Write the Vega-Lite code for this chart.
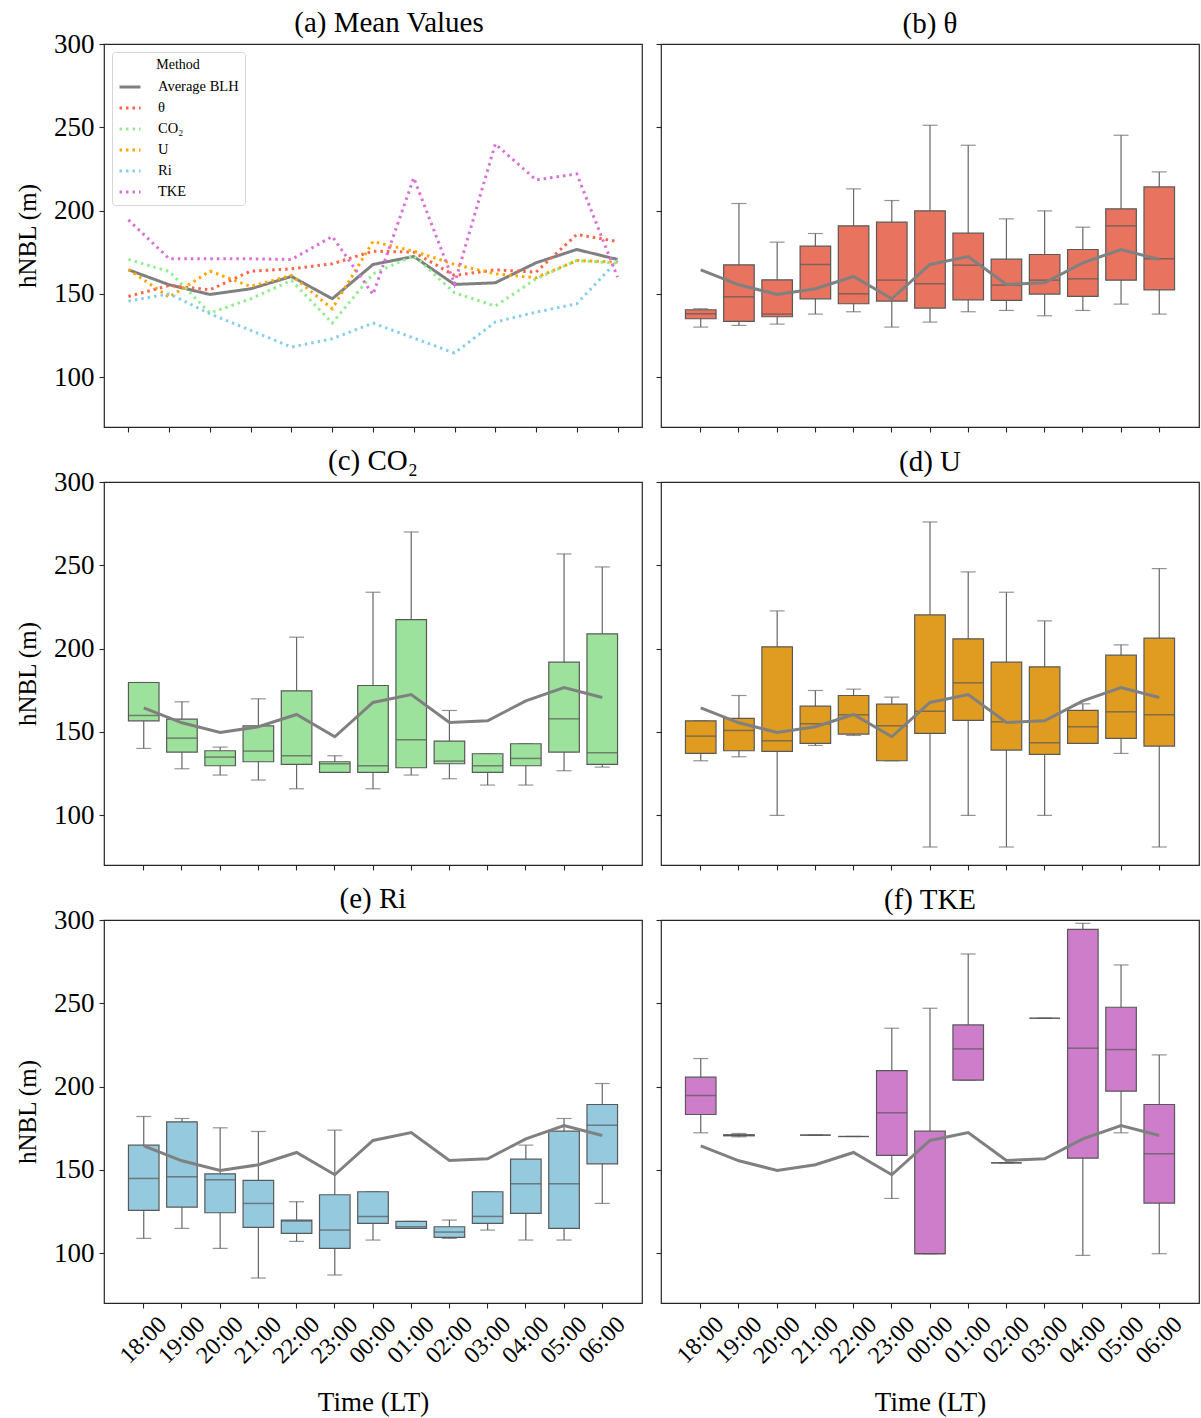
{
  "$schema": "https://vega.github.io/schema/vega-lite/v6.json",
  "background": "white",
  "padding": {"left": 14, "top": 8, "right": 0, "bottom": 0},
  "config": {
    "font": "Liberation Serif",
    "view": {"stroke": "#262626", "strokeWidth": 1.2},
    "axis": {"domain": false, "grid": false, "tickColor": "#262626", "tickSize": 5, "tickWidth": 1.1, "labelColor": "#000", "titleColor": "#000", "labelFont": "Liberation Serif", "titleFont": "Liberation Serif", "titleFontWeight": "normal"},
    "title": {"font": "Liberation Serif", "fontSize": 29, "fontWeight": "normal", "color": "#000", "offset": 4},
    "legend": {"labelFont": "Liberation Serif", "titleFont": "Liberation Serif"}
  },
  "datasets": {
    "means": [
      {"time":"18:00","method":"Average BLH","value":164.4},{"time":"19:00","method":"Average BLH","value":155.4},{"time":"20:00","method":"Average BLH","value":149.6},{"time":"21:00","method":"Average BLH","value":153},{"time":"22:00","method":"Average BLH","value":160.4},{"time":"23:00","method":"Average BLH","value":147},{"time":"00:00","method":"Average BLH","value":167.6},{"time":"01:00","method":"Average BLH","value":172.4},{"time":"02:00","method":"Average BLH","value":155.6},{"time":"03:00","method":"Average BLH","value":156.6},{"time":"04:00","method":"Average BLH","value":168.6},{"time":"05:00","method":"Average BLH","value":176.6},{"time":"06:00","method":"Average BLH","value":170.6},
      {"time":"18:00","method":"θ","value":148.4},{"time":"19:00","method":"θ","value":155},{"time":"20:00","method":"θ","value":152.4},{"time":"21:00","method":"θ","value":163.6},{"time":"22:00","method":"θ","value":165},{"time":"23:00","method":"θ","value":168},{"time":"00:00","method":"θ","value":175.6},{"time":"01:00","method":"θ","value":175},{"time":"02:00","method":"θ","value":161},{"time":"03:00","method":"θ","value":164.4},{"time":"04:00","method":"θ","value":163},{"time":"05:00","method":"θ","value":185.6},{"time":"06:00","method":"θ","value":181.4},
      {"time":"18:00","method":"CO₂","value":170.6},{"time":"19:00","method":"CO₂","value":163.4},{"time":"20:00","method":"CO₂","value":138.4},{"time":"21:00","method":"CO₂","value":147},{"time":"22:00","method":"CO₂","value":158},{"time":"23:00","method":"CO₂","value":132.4},{"time":"00:00","method":"CO₂","value":162},{"time":"01:00","method":"CO₂","value":173},{"time":"02:00","method":"CO₂","value":150.6},{"time":"03:00","method":"CO₂","value":142.6},{"time":"04:00","method":"CO₂","value":159},{"time":"05:00","method":"CO₂","value":170},{"time":"06:00","method":"CO₂","value":168.4},
      {"time":"18:00","method":"U","value":164.6},{"time":"19:00","method":"U","value":148},{"time":"20:00","method":"U","value":163.6},{"time":"21:00","method":"U","value":154.4},{"time":"22:00","method":"U","value":161},{"time":"23:00","method":"U","value":141},{"time":"00:00","method":"U","value":181.4},{"time":"01:00","method":"U","value":175.6},{"time":"02:00","method":"U","value":167.6},{"time":"03:00","method":"U","value":162},{"time":"04:00","method":"U","value":159.6},{"time":"05:00","method":"U","value":170},{"time":"06:00","method":"U","value":169},
      {"time":"18:00","method":"Ri","value":145.6},{"time":"19:00","method":"Ri","value":150},{"time":"20:00","method":"Ri","value":138},{"time":"21:00","method":"Ri","value":128},{"time":"22:00","method":"Ri","value":118},{"time":"23:00","method":"Ri","value":123},{"time":"00:00","method":"Ri","value":132.4},{"time":"01:00","method":"Ri","value":123.4},{"time":"02:00","method":"Ri","value":114.4},{"time":"03:00","method":"Ri","value":133},{"time":"04:00","method":"Ri","value":139},{"time":"05:00","method":"Ri","value":144},{"time":"06:00","method":"Ri","value":170},
      {"time":"18:00","method":"TKE","value":194.4},{"time":"19:00","method":"TKE","value":171},{"time":"20:00","method":"TKE","value":171},{"time":"21:00","method":"TKE","value":171},{"time":"22:00","method":"TKE","value":170.6},{"time":"23:00","method":"TKE","value":184.4},{"time":"00:00","method":"TKE","value":149.6},{"time":"01:00","method":"TKE","value":219.6},{"time":"02:00","method":"TKE","value":156},{"time":"03:00","method":"TKE","value":240},{"time":"04:00","method":"TKE","value":218.4},{"time":"05:00","method":"TKE","value":222},{"time":"06:00","method":"TKE","value":160}
    ],
    "boxes": [
      {"method":"θ","time":"18:00","lo":130,"q1":135,"med":138,"q3":140.4,"hi":141},
      {"method":"θ","time":"19:00","lo":131,"q1":133.4,"med":148.2,"q3":167.4,"hi":204.2},
      {"method":"θ","time":"20:00","lo":131.8,"q1":136.2,"med":137.8,"q3":158.4,"hi":181},
      {"method":"θ","time":"21:00","lo":137.8,"q1":147,"med":167.6,"q3":178.6,"hi":186.2},
      {"method":"θ","time":"22:00","lo":139.2,"q1":144,"med":150,"q3":190.8,"hi":213},
      {"method":"θ","time":"23:00","lo":130,"q1":145.6,"med":158.2,"q3":193,"hi":206},
      {"method":"θ","time":"00:00","lo":133,"q1":141.4,"med":156,"q3":199.8,"hi":251.2},
      {"method":"θ","time":"01:00","lo":139.2,"q1":146.4,"med":167.2,"q3":186.4,"hi":239.2},
      {"method":"θ","time":"02:00","lo":140,"q1":146,"med":155.2,"q3":170.8,"hi":195},
      {"method":"θ","time":"03:00","lo":136.8,"q1":149.8,"med":158.2,"q3":173.6,"hi":199.8},
      {"method":"θ","time":"04:00","lo":140,"q1":148.4,"med":159,"q3":176.6,"hi":190},
      {"method":"θ","time":"05:00","lo":143.8,"q1":158.2,"med":190.8,"q3":201,"hi":245.2},
      {"method":"θ","time":"06:00","lo":137.8,"q1":152.4,"med":171,"q3":214.2,"hi":223.2},
      {"method":"CO₂","time":"18:00","lo":140,"q1":156.6,"med":159.8,"q3":179.6,"hi":179.6},
      {"method":"CO₂","time":"19:00","lo":127.8,"q1":137.8,"med":146.2,"q3":157.6,"hi":168},
      {"method":"CO₂","time":"20:00","lo":124,"q1":129.6,"med":134.8,"q3":138.6,"hi":140.8},
      {"method":"CO₂","time":"21:00","lo":121,"q1":132,"med":138.4,"q3":153.6,"hi":169.8},
      {"method":"CO₂","time":"22:00","lo":115.8,"q1":130.4,"med":135.6,"q3":174.6,"hi":206.8},
      {"method":"CO₂","time":"23:00","lo":125.6,"q1":125.6,"med":130.8,"q3":132,"hi":135.6},
      {"method":"CO₂","time":"00:00","lo":115.8,"q1":125.6,"med":129.6,"q3":177.8,"hi":233.8},
      {"method":"CO₂","time":"01:00","lo":124,"q1":128.4,"med":145.2,"q3":217.4,"hi":270},
      {"method":"CO₂","time":"02:00","lo":121.8,"q1":130.8,"med":132.4,"q3":144.4,"hi":162.8},
      {"method":"CO₂","time":"03:00","lo":118,"q1":125.6,"med":129.6,"q3":136.8,"hi":136.8},
      {"method":"CO₂","time":"04:00","lo":118,"q1":129.6,"med":134,"q3":142.8,"hi":142.8},
      {"method":"CO₂","time":"05:00","lo":126.6,"q1":137.8,"med":157.8,"q3":191.8,"hi":256.8},
      {"method":"CO₂","time":"06:00","lo":128.8,"q1":130.4,"med":137.4,"q3":208.8,"hi":249},
      {"method":"U","time":"18:00","lo":132.6,"q1":137,"med":147.4,"q3":156.6,"hi":156.6},
      {"method":"U","time":"19:00","lo":135,"q1":138.6,"med":150.8,"q3":158,"hi":171.8},
      {"method":"U","time":"20:00","lo":99.8,"q1":138.2,"med":144.6,"q3":201,"hi":222.6},
      {"method":"U","time":"21:00","lo":141.8,"q1":143,"med":154.8,"q3":165.4,"hi":174.8},
      {"method":"U","time":"22:00","lo":147.8,"q1":148.6,"med":160.2,"q3":171.8,"hi":175.6},
      {"method":"U","time":"23:00","lo":132.6,"q1":132.6,"med":153.6,"q3":166.6,"hi":170.8},
      {"method":"U","time":"00:00","lo":80.8,"q1":149,"med":162.4,"q3":220.2,"hi":276},
      {"method":"U","time":"01:00","lo":99.8,"q1":156.8,"med":179.4,"q3":205.8,"hi":246},
      {"method":"U","time":"02:00","lo":80.8,"q1":139,"med":156,"q3":191.8,"hi":233.8},
      {"method":"U","time":"03:00","lo":99.8,"q1":136.4,"med":143.4,"q3":189,"hi":216.6},
      {"method":"U","time":"04:00","lo":143,"q1":143,"med":153,"q3":162.8,"hi":166.8},
      {"method":"U","time":"05:00","lo":137,"q1":146,"med":162,"q3":196,"hi":202.2},
      {"method":"U","time":"06:00","lo":80.8,"q1":141.4,"med":160.2,"q3":206.2,"hi":248},
      {"method":"Ri","time":"18:00","lo":108.8,"q1":125.6,"med":144.8,"q3":164.8,"hi":182},
      {"method":"Ri","time":"19:00","lo":114.8,"q1":127.6,"med":145.8,"q3":178.8,"hi":180.8},
      {"method":"Ri","time":"20:00","lo":102.8,"q1":124.2,"med":144,"q3":147.6,"hi":175.2},
      {"method":"Ri","time":"21:00","lo":85,"q1":115.4,"med":129.8,"q3":143.6,"hi":173},
      {"method":"Ri","time":"22:00","lo":107,"q1":111.8,"med":119.2,"q3":119.8,"hi":130.8},
      {"method":"Ri","time":"23:00","lo":86.8,"q1":102.8,"med":113.8,"q3":135,"hi":173.8},
      {"method":"Ri","time":"00:00","lo":107.8,"q1":117.8,"med":122,"q3":136.8,"hi":136.8},
      {"method":"Ri","time":"01:00","lo":114.8,"q1":114.8,"med":115.8,"q3":119,"hi":119},
      {"method":"Ri","time":"02:00","lo":108.8,"q1":109.4,"med":112.6,"q3":115.8,"hi":119.8},
      {"method":"Ri","time":"03:00","lo":113.8,"q1":117.8,"med":122,"q3":136.8,"hi":136.8},
      {"method":"Ri","time":"04:00","lo":107.8,"q1":123.8,"med":141.6,"q3":156.4,"hi":164.8},
      {"method":"Ri","time":"05:00","lo":107.8,"q1":114.8,"med":141.6,"q3":173.2,"hi":180.8},
      {"method":"Ri","time":"06:00","lo":129.8,"q1":153.6,"med":176.8,"q3":189.2,"hi":201.8},
      {"method":"TKE","time":"18:00","lo":172.2,"q1":183.2,"med":194.6,"q3":205.6,"hi":216.8},
      {"method":"TKE","time":"19:00","lo":169.8,"q1":170.4,"med":170.8,"q3":171,"hi":171.8},
      {"method":"TKE","time":"21:00","lo":170.8,"q1":170.8,"med":170.8,"q3":170.8,"hi":170.8},
      {"method":"TKE","time":"22:00","lo":170,"q1":170,"med":170,"q3":170,"hi":170},
      {"method":"TKE","time":"23:00","lo":132.8,"q1":158.6,"med":184.2,"q3":209.6,"hi":235},
      {"method":"TKE","time":"00:00","lo":99.6,"q1":99.6,"med":99.6,"q3":173.2,"hi":247},
      {"method":"TKE","time":"01:00","lo":203.8,"q1":203.8,"med":222.6,"q3":237,"hi":279.6},
      {"method":"TKE","time":"02:00","lo":154.2,"q1":154.2,"med":154.2,"q3":154.2,"hi":154.2},
      {"method":"TKE","time":"03:00","lo":241,"q1":241,"med":241,"q3":241,"hi":241},
      {"method":"TKE","time":"04:00","lo":98.6,"q1":157,"med":223,"q3":294.4,"hi":298},
      {"method":"TKE","time":"05:00","lo":172.2,"q1":197.2,"med":222.2,"q3":247.6,"hi":273},
      {"method":"TKE","time":"06:00","lo":99.6,"q1":130,"med":159.6,"q3":189.2,"hi":219}
    ]
  },
  "columns": 2,
  "bounds": "flush",
  "spacing": {"row": 55, "column": 19},
  "concat": [
    {
      "title": {"text": "(a) Mean Values", "offset": -8, "dx": 16},
      "width": 538, "height": 383,
      "data": {"name": "means"},
      "mark": {"type": "line", "strokeWidth": 3},
      "encoding": {
        "x": {"field": "time", "type": "ordinal", "scale": {"type": "point", "domain": ["18:00","19:00","20:00","21:00","22:00","23:00","00:00","01:00","02:00","03:00","04:00","05:00","06:00"], "padding": 0.6}, "axis": {"labels": false, "title": null}},
        "y": {"field": "value", "type": "quantitative", "scale": {"domain": [70, 300], "nice": false, "zero": false}, "axis": {"values": [100,150,200,250,300], "title": "hNBL (m)", "labelFontSize": 27, "titleFontSize": 25, "labelPadding": 5, "titlePadding": 13}},
        "color": {"field": "method", "type": "nominal", "scale": {"domain": ["Average BLH","θ","CO₂","U","Ri","TKE"], "range": ["#808080","#ff6347","#90ee90","#ffa500","#87ceeb","#da70d6"]}, "legend": {"title": "Method", "orient": "top-left", "offset": 8, "titleAnchor": "middle", "symbolType": "stroke", "symbolSize": 441, "symbolStrokeWidth": 3, "labelFontSize": 14.5, "titleFontSize": 14, "titleFontWeight": "normal", "labelColor": "#000", "titleColor": "#000", "fillColor": "white", "strokeColor": "#d6d6d6", "padding": 6, "cornerRadius": 3, "rowPadding": 2, "labelOffset": 16, "titlePadding": 3}},
        "strokeDash": {"field": "method", "type": "nominal", "scale": {"domain": ["Average BLH","θ","CO₂","U","Ri","TKE"], "range": [[1,0],[2.5,4],[2.5,4],[2.5,4],[2.5,4],[2.5,4]]}, "legend": {"title": "Method", "orient": "top-left", "offset": 8, "titleAnchor": "middle", "symbolType": "stroke", "symbolSize": 441, "symbolStrokeWidth": 3, "labelFontSize": 14.5, "titleFontSize": 14, "titleFontWeight": "normal", "labelColor": "#000", "titleColor": "#000", "fillColor": "white", "strokeColor": "#d6d6d6", "padding": 6, "cornerRadius": 3, "rowPadding": 2, "labelOffset": 16, "titlePadding": 3}},
        "order": {"value": null}
      }
    },
    {
      "title": "(b) θ",
      "width": 538, "height": 383,
      "encoding": {"x": {"field": "time", "type": "ordinal", "scale": {"type": "band", "domain": ["18:00","19:00","20:00","21:00","22:00","23:00","00:00","01:00","02:00","03:00","04:00","05:00","06:00"], "paddingInner": 0.2, "paddingOuter": 0.64}, "axis": {"labels": false, "title": null}}},
      "layer": [
        {"data": {"name": "boxes"}, "transform": [{"filter": {"field": "method", "equal": "θ"}}], "mark": {"type": "rule", "color": "#666", "strokeWidth": 1.2}, "encoding": {"y": {"field": "lo", "type": "quantitative", "scale": {"domain": [70, 300], "nice": false, "zero": false}, "axis": {"values": [100,150,200,250,300], "labels": false}, "title": null}, "y2": {"field": "hi"}}},
        {"data": {"name": "boxes"}, "transform": [{"filter": {"field": "method", "equal": "θ"}}], "mark": {"type": "tick", "color": "#666", "size": 15, "thickness": 1.2}, "encoding": {"y": {"field": "lo", "type": "quantitative", "title": null}}},
        {"data": {"name": "boxes"}, "transform": [{"filter": {"field": "method", "equal": "θ"}}], "mark": {"type": "tick", "color": "#666", "size": 15, "thickness": 1.2}, "encoding": {"y": {"field": "hi", "type": "quantitative", "title": null}}},
        {"data": {"name": "boxes"}, "transform": [{"filter": {"field": "method", "equal": "θ"}}], "mark": {"type": "bar", "fill": "#e8735e", "stroke": "#595959", "strokeWidth": 1.2}, "encoding": {"y": {"field": "q1", "type": "quantitative", "title": null}, "y2": {"field": "q3"}}},
        {"data": {"name": "boxes"}, "transform": [{"filter": {"field": "method", "equal": "θ"}}], "mark": {"type": "tick", "color": "#595959", "size": 30.6, "thickness": 1.5}, "encoding": {"y": {"field": "med", "type": "quantitative", "title": null}}},
        {"data": {"name": "means"}, "transform": [{"filter": {"field": "method", "equal": "Average BLH"}}], "mark": {"type": "line", "color": "#808080", "strokeWidth": 3}, "encoding": {"y": {"field": "value", "type": "quantitative", "title": null}, "order": {"value": null}}}
      ]
    },
    {
      "title": {"text": "(c) CO₂", "offset": -8},
      "width": 538, "height": 383,
      "encoding": {"x": {"field": "time", "type": "ordinal", "scale": {"type": "band", "domain": ["18:00","19:00","20:00","21:00","22:00","23:00","00:00","01:00","02:00","03:00","04:00","05:00","06:00"], "paddingInner": 0.2, "paddingOuter": 0.64}, "axis": {"labels": false, "title": null}}},
      "layer": [
        {"data": {"name": "boxes"}, "transform": [{"filter": {"field": "method", "equal": "CO₂"}}], "mark": {"type": "rule", "color": "#666", "strokeWidth": 1.2}, "encoding": {"y": {"field": "lo", "type": "quantitative", "scale": {"domain": [70, 300], "nice": false, "zero": false}, "axis": {"values": [100,150,200,250,300], "labelFontSize": 27, "titleFontSize": 25, "labelPadding": 5, "titlePadding": 13}, "title": "hNBL (m)"}, "y2": {"field": "hi"}}},
        {"data": {"name": "boxes"}, "transform": [{"filter": {"field": "method", "equal": "CO₂"}}], "mark": {"type": "tick", "color": "#666", "size": 15, "thickness": 1.2}, "encoding": {"y": {"field": "lo", "type": "quantitative", "title": "hNBL (m)"}}},
        {"data": {"name": "boxes"}, "transform": [{"filter": {"field": "method", "equal": "CO₂"}}], "mark": {"type": "tick", "color": "#666", "size": 15, "thickness": 1.2}, "encoding": {"y": {"field": "hi", "type": "quantitative", "title": "hNBL (m)"}}},
        {"data": {"name": "boxes"}, "transform": [{"filter": {"field": "method", "equal": "CO₂"}}], "mark": {"type": "bar", "fill": "#9ce29c", "stroke": "#595959", "strokeWidth": 1.2}, "encoding": {"y": {"field": "q1", "type": "quantitative", "title": "hNBL (m)"}, "y2": {"field": "q3"}}},
        {"data": {"name": "boxes"}, "transform": [{"filter": {"field": "method", "equal": "CO₂"}}], "mark": {"type": "tick", "color": "#595959", "size": 30.6, "thickness": 1.5}, "encoding": {"y": {"field": "med", "type": "quantitative", "title": "hNBL (m)"}}},
        {"data": {"name": "means"}, "transform": [{"filter": {"field": "method", "equal": "Average BLH"}}], "mark": {"type": "line", "color": "#808080", "strokeWidth": 3}, "encoding": {"y": {"field": "value", "type": "quantitative", "title": "hNBL (m)"}, "order": {"value": null}}}
      ]
    },
    {
      "title": "(d) U",
      "width": 538, "height": 383,
      "encoding": {"x": {"field": "time", "type": "ordinal", "scale": {"type": "band", "domain": ["18:00","19:00","20:00","21:00","22:00","23:00","00:00","01:00","02:00","03:00","04:00","05:00","06:00"], "paddingInner": 0.2, "paddingOuter": 0.64}, "axis": {"labels": false, "title": null}}},
      "layer": [
        {"data": {"name": "boxes"}, "transform": [{"filter": {"field": "method", "equal": "U"}}], "mark": {"type": "rule", "color": "#666", "strokeWidth": 1.2}, "encoding": {"y": {"field": "lo", "type": "quantitative", "scale": {"domain": [70, 300], "nice": false, "zero": false}, "axis": {"values": [100,150,200,250,300], "labels": false}, "title": null}, "y2": {"field": "hi"}}},
        {"data": {"name": "boxes"}, "transform": [{"filter": {"field": "method", "equal": "U"}}], "mark": {"type": "tick", "color": "#666", "size": 15, "thickness": 1.2}, "encoding": {"y": {"field": "lo", "type": "quantitative", "title": null}}},
        {"data": {"name": "boxes"}, "transform": [{"filter": {"field": "method", "equal": "U"}}], "mark": {"type": "tick", "color": "#666", "size": 15, "thickness": 1.2}, "encoding": {"y": {"field": "hi", "type": "quantitative", "title": null}}},
        {"data": {"name": "boxes"}, "transform": [{"filter": {"field": "method", "equal": "U"}}], "mark": {"type": "bar", "fill": "#df9c20", "stroke": "#595959", "strokeWidth": 1.2}, "encoding": {"y": {"field": "q1", "type": "quantitative", "title": null}, "y2": {"field": "q3"}}},
        {"data": {"name": "boxes"}, "transform": [{"filter": {"field": "method", "equal": "U"}}], "mark": {"type": "tick", "color": "#595959", "size": 30.6, "thickness": 1.5}, "encoding": {"y": {"field": "med", "type": "quantitative", "title": null}}},
        {"data": {"name": "means"}, "transform": [{"filter": {"field": "method", "equal": "Average BLH"}}], "mark": {"type": "line", "color": "#808080", "strokeWidth": 3}, "encoding": {"y": {"field": "value", "type": "quantitative", "title": null}, "order": {"value": null}}}
      ]
    },
    {
      "title": {"text": "(e) Ri", "offset": -8},
      "width": 538, "height": 383,
      "encoding": {"x": {"field": "time", "type": "ordinal", "scale": {"type": "band", "domain": ["18:00","19:00","20:00","21:00","22:00","23:00","00:00","01:00","02:00","03:00","04:00","05:00","06:00"], "paddingInner": 0.2, "paddingOuter": 0.64}, "axis": {"title": "Time (LT)", "labelAngle": -45, "labelAlign": "center", "labelBaseline": "middle", "labelPadding": 32, "labelFontSize": 24, "titleFontSize": 27, "titlePadding": 22}}},
      "layer": [
        {"data": {"name": "boxes"}, "transform": [{"filter": {"field": "method", "equal": "Ri"}}], "mark": {"type": "rule", "color": "#666", "strokeWidth": 1.2}, "encoding": {"y": {"field": "lo", "type": "quantitative", "scale": {"domain": [70, 300], "nice": false, "zero": false}, "axis": {"values": [100,150,200,250,300], "labelFontSize": 27, "titleFontSize": 25, "labelPadding": 5, "titlePadding": 13}, "title": "hNBL (m)"}, "y2": {"field": "hi"}}},
        {"data": {"name": "boxes"}, "transform": [{"filter": {"field": "method", "equal": "Ri"}}], "mark": {"type": "tick", "color": "#666", "size": 15, "thickness": 1.2}, "encoding": {"y": {"field": "lo", "type": "quantitative", "title": "hNBL (m)"}}},
        {"data": {"name": "boxes"}, "transform": [{"filter": {"field": "method", "equal": "Ri"}}], "mark": {"type": "tick", "color": "#666", "size": 15, "thickness": 1.2}, "encoding": {"y": {"field": "hi", "type": "quantitative", "title": "hNBL (m)"}}},
        {"data": {"name": "boxes"}, "transform": [{"filter": {"field": "method", "equal": "Ri"}}], "mark": {"type": "bar", "fill": "#94c9de", "stroke": "#595959", "strokeWidth": 1.2}, "encoding": {"y": {"field": "q1", "type": "quantitative", "title": "hNBL (m)"}, "y2": {"field": "q3"}}},
        {"data": {"name": "boxes"}, "transform": [{"filter": {"field": "method", "equal": "Ri"}}], "mark": {"type": "tick", "color": "#595959", "size": 30.6, "thickness": 1.5}, "encoding": {"y": {"field": "med", "type": "quantitative", "title": "hNBL (m)"}}},
        {"data": {"name": "means"}, "transform": [{"filter": {"field": "method", "equal": "Average BLH"}}], "mark": {"type": "line", "color": "#808080", "strokeWidth": 3}, "encoding": {"y": {"field": "value", "type": "quantitative", "title": "hNBL (m)"}, "order": {"value": null}}}
      ]
    },
    {
      "title": "(f) TKE",
      "width": 538, "height": 383,
      "encoding": {"x": {"field": "time", "type": "ordinal", "scale": {"type": "band", "domain": ["18:00","19:00","20:00","21:00","22:00","23:00","00:00","01:00","02:00","03:00","04:00","05:00","06:00"], "paddingInner": 0.2, "paddingOuter": 0.64}, "axis": {"title": "Time (LT)", "labelAngle": -45, "labelAlign": "center", "labelBaseline": "middle", "labelPadding": 32, "labelFontSize": 24, "titleFontSize": 27, "titlePadding": 22}}},
      "layer": [
        {"data": {"name": "boxes"}, "transform": [{"filter": {"field": "method", "equal": "TKE"}}], "mark": {"type": "rule", "color": "#666", "strokeWidth": 1.2}, "encoding": {"y": {"field": "lo", "type": "quantitative", "scale": {"domain": [70, 300], "nice": false, "zero": false}, "axis": {"values": [100,150,200,250,300], "labels": false}, "title": null}, "y2": {"field": "hi"}}},
        {"data": {"name": "boxes"}, "transform": [{"filter": {"field": "method", "equal": "TKE"}}], "mark": {"type": "tick", "color": "#666", "size": 15, "thickness": 1.2}, "encoding": {"y": {"field": "lo", "type": "quantitative", "title": null}}},
        {"data": {"name": "boxes"}, "transform": [{"filter": {"field": "method", "equal": "TKE"}}], "mark": {"type": "tick", "color": "#666", "size": 15, "thickness": 1.2}, "encoding": {"y": {"field": "hi", "type": "quantitative", "title": null}}},
        {"data": {"name": "boxes"}, "transform": [{"filter": {"field": "method", "equal": "TKE"}}], "mark": {"type": "bar", "fill": "#cd7dca", "stroke": "#595959", "strokeWidth": 1.2}, "encoding": {"y": {"field": "q1", "type": "quantitative", "title": null}, "y2": {"field": "q3"}}},
        {"data": {"name": "boxes"}, "transform": [{"filter": {"field": "method", "equal": "TKE"}}], "mark": {"type": "tick", "color": "#595959", "size": 30.6, "thickness": 1.5}, "encoding": {"y": {"field": "med", "type": "quantitative", "title": null}}},
        {"data": {"name": "means"}, "transform": [{"filter": {"field": "method", "equal": "Average BLH"}}], "mark": {"type": "line", "color": "#808080", "strokeWidth": 3}, "encoding": {"y": {"field": "value", "type": "quantitative", "title": null}, "order": {"value": null}}}
      ]
    }
  ]
}
